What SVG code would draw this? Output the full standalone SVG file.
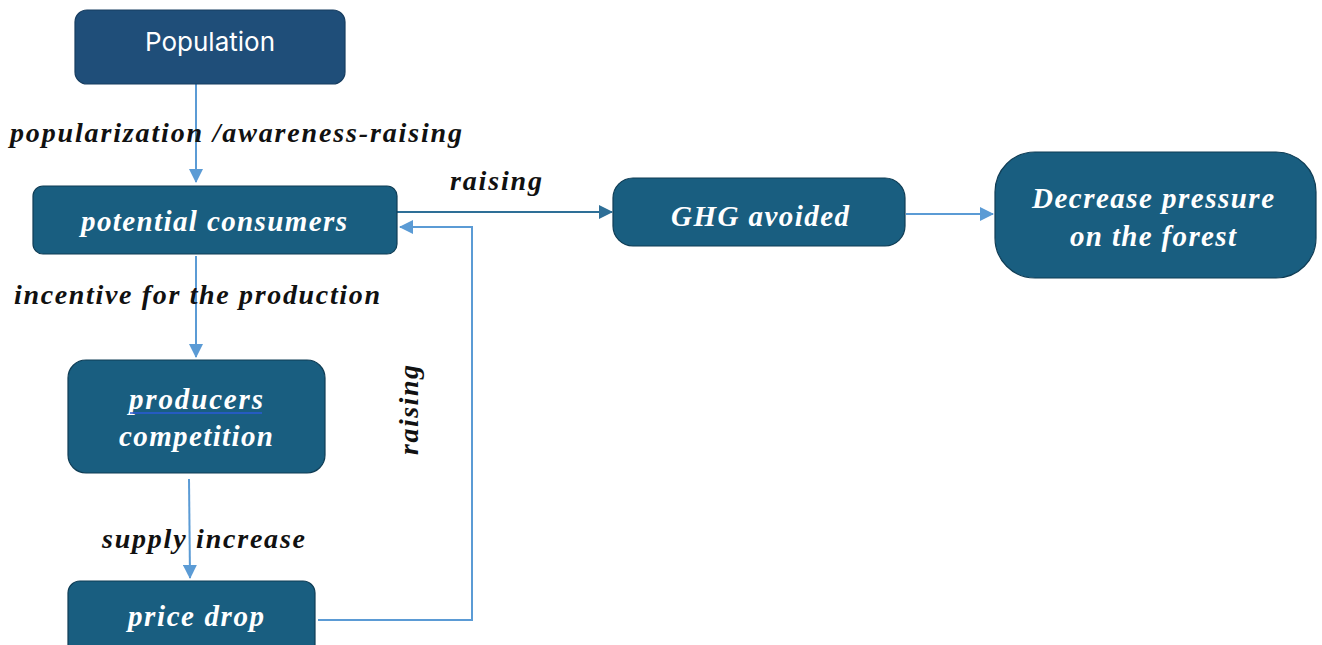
<svg xmlns="http://www.w3.org/2000/svg" width="1322" height="645" viewBox="0 0 1322 645">
<style>
.node{fill:#195e80;stroke:#0f3d55;stroke-width:1.2}
.nt{font-family:"Liberation Serif",serif;font-weight:bold;font-style:italic;font-size:29px;fill:#ffffff;text-anchor:middle}
.lbl{font-family:"Liberation Serif",serif;font-weight:bold;font-style:italic;font-size:28px;fill:#111111}
.con{fill:none;stroke:#5b9bd5;stroke-width:2}
.con2{fill:none;stroke:#2e6f97;stroke-width:2}
</style>
<defs>
<marker id="ah" markerWidth="14" markerHeight="14" refX="13" refY="7" orient="auto" markerUnits="userSpaceOnUse" viewBox="0 0 14 14">
<path d="M0,0 L14,7 L0,14 z" fill="#5b9bd5"/>
</marker>
<marker id="ah2" markerWidth="14" markerHeight="14" refX="13" refY="7" orient="auto" markerUnits="userSpaceOnUse" viewBox="0 0 14 14">
<path d="M0,0 L14,7 L0,14 z" fill="#2e6f97"/>
</marker>
</defs>
<rect width="1322" height="645" fill="#ffffff"/>
<g id="connectors">
<line class="con" x1="196" y1="84" x2="196" y2="182" marker-end="url(#ah)"/>
<line class="con" x1="196" y1="256" x2="196" y2="357" marker-end="url(#ah)"/>
<line class="con" x1="189" y1="479" x2="190" y2="578" marker-end="url(#ah)"/>
<polyline class="con" points="318,620 472,620 472,227 400,227" marker-end="url(#ah)"/>
<line class="con2" x1="397" y1="212" x2="612" y2="212" marker-end="url(#ah2)"/>
<line class="con" x1="906" y1="214" x2="993" y2="214" marker-end="url(#ah)"/>
<text class="lbl" x="10" y="142" textLength="452">popularization /awareness-raising</text>
<text class="lbl" x="14" y="304" textLength="366">incentive for the production</text>
<text class="lbl" x="102" y="548" textLength="203">supply increase</text>
<text class="lbl" x="450" y="190" textLength="92">raising</text>
<text class="lbl" transform="translate(418,410) rotate(-90)" text-anchor="middle" textLength="90">raising</text>
</g>
<g id="population">
<rect x="75" y="10" width="270" height="74" rx="12" fill="#1f4e79" stroke="#173d60" stroke-width="1.2"/>
<text x="210" y="51" font-family="Inter, 'Noto Sans', sans-serif" font-size="26" fill="#ffffff" text-anchor="middle">Population</text>
</g>
<g id="potential-consumers">
<rect class="node" x="33" y="186" width="364" height="68" rx="10"/>
<text class="nt" x="214" y="231" textLength="266">potential consumers</text>
</g>
<g id="producers-competition">
<rect class="node" x="68" y="360" width="257" height="113" rx="18"/>
<text class="nt" x="196" y="409" textLength="134">producers</text>
<line x1="130" y1="413" x2="262" y2="413" stroke="#2a5bd7" stroke-width="1.5"/>
<text class="nt" x="196" y="446" textLength="154">competition</text>
</g>
<g id="price-drop">
<rect class="node" x="68" y="581" width="247" height="80" rx="12"/>
<text class="nt" x="196" y="626" textLength="136">price drop</text>
</g>
<g id="ghg-avoided">
<rect class="node" x="613" y="178" width="292" height="68" rx="20"/>
<text class="nt" x="760" y="226" textLength="178">GHG avoided</text>
</g>
<g id="decrease-pressure">
<rect class="node" x="995" y="152" width="321" height="126" rx="40"/>
<text class="nt" x="1153" y="208" textLength="242">Decrease pressure</text>
<text class="nt" x="1153" y="246" textLength="166">on the forest</text>
</g>
</svg>
